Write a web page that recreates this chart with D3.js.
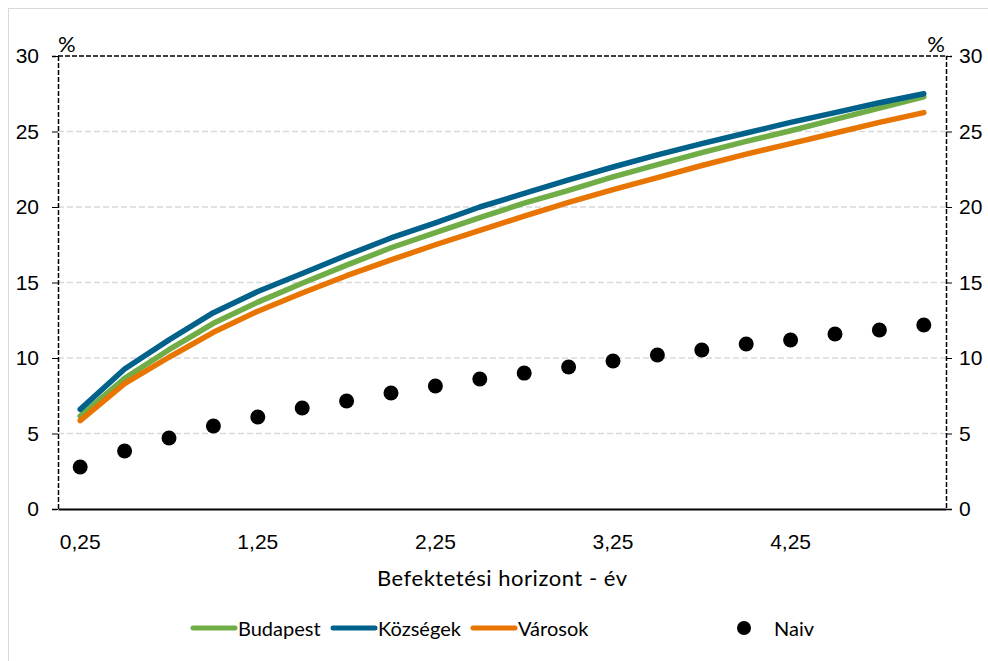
<!DOCTYPE html>
<html>
<head>
<meta charset="utf-8">
<script src="https://cdn.jsdelivr.net/npm/d3@7"></script>
<style>
  body { margin: 0; background: #fff; }
  svg { font-family: Lato, "Open Sans", sans-serif; }
</style>
</head>
<body>
<svg id="chart"></svg>
<script>
const horizont = [0.25, 0.5, 0.75, 1, 1.25, 1.5, 1.75, 2, 2.25, 2.5, 2.75, 3, 3.25, 3.5, 3.75, 4, 4.25, 4.5, 4.75, 5]
const budapest = [6.15, 8.65, 10.55, 12.3, 13.7, 14.95, 16.15, 17.3, 18.3, 19.3, 20.25, 21.1, 22.0, 22.8, 23.6, 24.35, 25.05, 25.8, 26.55, 27.3]
const kozsegek = [6.6, 9.27, 11.2, 13.0, 14.4, 15.6, 16.8, 17.95, 18.95, 20.0, 20.9, 21.8, 22.65, 23.45, 24.2, 24.9, 25.6, 26.25, 26.9, 27.5]
const varosok = [5.85, 8.3, 10.05, 11.7, 13.1, 14.3, 15.45, 16.5, 17.5, 18.45, 19.4, 20.3, 21.15, 21.95, 22.75, 23.5, 24.2, 24.9, 25.6, 26.25]
const naiv = [2.78, 3.84, 4.70, 5.50, 6.09, 6.69, 7.15, 7.68, 8.15, 8.61, 9.0, 9.40, 9.80, 10.2, 10.53, 10.93, 11.19, 11.59, 11.85, 12.19]
const yTicks = [0, 5, 10, 15, 20, 25, 30]

const series = [
    { name: "Budapest", values: budapest, color: "#70ad47" },
    { name: "Községek", values: kozsegek, color: "#00618a" },
    { name: "Városok", values: varosok, color: "#e87502" }
]

const width = 988
const height = 661
const margin = { top: 56, right: 42, bottom: 152, left: 58 }
const innerW = width - margin.left - margin.right
const innerH = height - margin.top - margin.bottom

const svg = d3.select('#chart')
    .attr("width", width)
    .attr("height", height)

// kulso keret
svg.append("rect")
    .attr("x", 8.5).attr("y", 8.5)
    .attr("width", width).attr("height", height)
    .attr("fill", "none")
    .attr("stroke", "#d9d9d9")

const g = svg.append("g").attr("transform", `translate(${margin.left},${margin.top})`)

const x = d3.scaleBand()
    .domain(horizont)
    .range([0, innerW])
const xc = d => x(d) + x.bandwidth() / 2

const y = d3.scaleLinear()
    .domain([0, 30])
    .range([innerH, 0])

const fmt = d => String(d).replace(".", ",")

// racsvonalak
g.selectAll(".grid")
    .data(yTicks.filter(t => t > 0 && t < 30))
    .enter()
    .append("line")
    .attr("x1", 0).attr("x2", innerW)
    .attr("y1", d => y(d)).attr("y2", d => y(d))
    .attr("stroke", "#d9d9d9")
    .attr("stroke-width", 1.5)
    .attr("stroke-dasharray", "6,3")

// tengelyek
const yLeft = g.append("g")
    .call(d3.axisLeft(y).tickValues(yTicks).tickSize(6).tickPadding(13))
const yRight = g.append("g")
    .attr("transform", `translate(${innerW},0)`)
    .call(d3.axisRight(y).tickValues(yTicks).tickSize(6).tickPadding(3))
const xAxis = g.append("g")
    .attr("transform", `translate(0,${innerH})`)
    .call(d3.axisBottom(x)
        .tickValues(horizont.filter((d, i) => i % 4 === 0))
        .tickFormat(fmt)
        .tickSize(0)
        .tickPadding(25))

for (const ax of [yLeft, yRight, xAxis]) {
    ax.select(".domain")
        .attr("stroke", "#000")
        .attr("stroke-width", 1.5)
        .attr("stroke-dasharray", "5,2")
    ax.selectAll(".tick line").attr("stroke", "#000")
    ax.selectAll("text")
        .attr("font-size", 21)
        .attr("fill", "#000")
}
xAxis.select(".domain").attr("stroke-dasharray", null).attr("stroke-width", 2)
yLeft.selectAll("text").attr("text-anchor", "end")
yRight.selectAll("text").attr("dx", 4)

// felso szaggatott vonal
g.append("line")
    .attr("x1", 0).attr("x2", innerW)
    .attr("y1", 0).attr("y2", 0)
    .attr("stroke", "#000")
    .attr("stroke-width", 1.5)
    .attr("stroke-dasharray", "5,2")

g.append("text").attr("x", 0).attr("y", -4).attr("font-size", 22).text("%")
g.append("text").attr("x", innerW - 1).attr("y", -4).attr("font-size", 22)
    .attr("text-anchor", "end").text("%")

// vonalak
const line = d3.line()
    .x((d, i) => xc(horizont[i]))
    .y(d => y(d))

g.selectAll(".series")
    .data(series)
    .enter()
    .append("path")
    .attr("d", d => line(d.values))
    .attr("fill", "none")
    .attr("stroke", d => d.color)
    .attr("stroke-width", 5.5)
    .attr("stroke-linecap", "round")
    .attr("stroke-linejoin", "round")

g.selectAll(".naiv")
    .data(naiv)
    .enter()
    .append("circle")
    .attr("cx", (d, i) => xc(horizont[i]))
    .attr("cy", d => y(d))
    .attr("r", 7.5)
    .attr("fill", "#000")

// tengelycim
svg.append("text")
    .attr("x", margin.left + innerW / 2)
    .attr("y", 586)
    .attr("text-anchor", "middle")
    .attr("font-size", 22)
    .attr("textLength", 250)
    .text("Befektetési horizont - év")

// jelmagyarazat
const legendItems = [
    { name: "Budapest", color: "#70ad47", x: 193 },
    { name: "Községek", color: "#00618a", x: 333 },
    { name: "Városok", color: "#e87502", x: 473 }
]
const legend = svg.append("g").attr("transform", "translate(0,628)")
legend.selectAll(".li")
    .data(legendItems)
    .enter()
    .append("line")
    .attr("x1", d => d.x).attr("x2", d => d.x + 42)
    .attr("y1", 0).attr("y2", 0)
    .attr("stroke", d => d.color)
    .attr("stroke-width", 5)
    .attr("stroke-linecap", "round")
legend.selectAll(".lt")
    .data(legendItems)
    .enter()
    .append("text")
    .attr("x", d => d.x + 45)
    .attr("y", 8)
    .attr("font-size", 20)
    .text(d => d.name)
legend.append("circle").attr("cx", 744).attr("cy", 0).attr("r", 7).attr("fill", "#000")
legend.append("text").attr("x", 774).attr("y", 8).attr("font-size", 20).text("Naiv")
</script>
</body>
</html>
